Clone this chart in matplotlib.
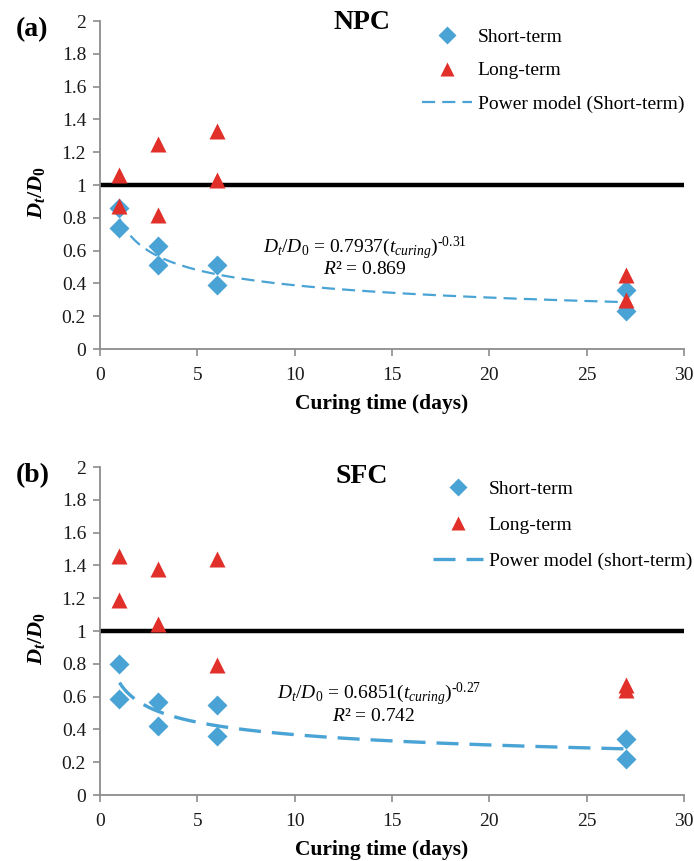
import numpy as np
import matplotlib
matplotlib.use("Agg")
import matplotlib.pyplot as plt
from matplotlib.ticker import FuncFormatter, MultipleLocator

plt.rcParams['font.family'] = ['Liberation Serif', 'DejaVu Serif']
plt.rcParams['mathtext.fontset'] = 'custom'
plt.rcParams['mathtext.rm'] = 'Liberation Serif'
plt.rcParams['mathtext.it'] = 'Liberation Serif:italic'
plt.rcParams['mathtext.bf'] = 'Liberation Serif:bold'
plt.rcParams['mathtext.bfit'] = 'Liberation Serif:bold:italic'

# ---- data ----
days = [1, 1, 3, 3, 6, 6, 27, 27]
npc_short = [0.86, 0.74, 0.63, 0.51, 0.51, 0.39, 0.36, 0.23]
npc_long = [1.06, 0.87, 1.25, 0.82, 1.33, 1.03, 0.45, 0.30]
sfc_short = [0.80, 0.585, 0.57, 0.42, 0.55, 0.36, 0.34, 0.22]
sfc_long = [1.46, 1.19, 1.38, 1.04, 1.44, 0.79, 0.67, 0.64]

npc_coef, npc_exp, npc_r2 = 0.7937, '-0.31', 0.869
sfc_coef, sfc_exp, sfc_r2 = 0.6851, '-0.27', 0.742

panels = [
    dict(tag='(a)', name='NPC', name_y=0.995, short=npc_short, long=npc_long,
         coef=npc_coef, exp=npc_exp, r2=npc_r2,
         model_label='Power model (Short-term)',
         rect=[100/694, 1-349/861, 584/694, 328/861],
         lw=1.6, dashes=(5.9, 3.2),
         eq_xy=(13.6, 0.612), r2_xy=(13.6, 0.482),
         leg_xy=(0.552, 0.978), labelspacing=0.82),
    dict(tag='(b)', name='SFC', name_y=0.97, short=sfc_short, long=sfc_long,
         coef=sfc_coef, exp=sfc_exp, r2=sfc_r2,
         model_label='Power model (short-term)',
         rect=[100/694, 1-795/861, 584/694, 328/861],
         lw=2.4, dashes=(6.6, 3.3),
         eq_xy=(14.35, 0.615), r2_xy=(14.05, 0.477),
         leg_xy=(0.571, 0.96), labelspacing=0.95),
]

blue = '#4AA3D5'
red = '#E1302A'
gray = '#8C8C8C'
fs = 14

fig = plt.figure(figsize=(6.94, 8.61), dpi=100)

for p in panels:
    ax = fig.add_axes(p['rect'])
    ax.set_xlim(0, 30)
    ax.set_ylim(0, 2)
    ax.xaxis.set_major_locator(MultipleLocator(5))
    ax.yaxis.set_major_locator(MultipleLocator(0.2))
    ax.yaxis.set_major_formatter(FuncFormatter(lambda v, pos: '%g' % round(v, 2)))
    for s in ['top', 'right']:
        ax.spines[s].set_visible(False)
    for s in ['left', 'bottom']:
        ax.spines[s].set_color(gray)
        ax.spines[s].set_linewidth(1.3)
    ax.tick_params(direction='out', length=5, width=1.2, color=gray,
                   labelsize=fs, labelcolor='#1a1a1a', pad=5)
    ax.tick_params(axis='x', pad=8)
    ax.axhline(1, color='black', lw=3.2, zorder=2)

    ax.plot(days, p['short'], linestyle='none', marker='D', ms=9.8,
            color=blue, mec='none', label='Short-term', zorder=3)
    ax.plot(days, p['long'], linestyle='none', marker='^', ms=11,
            color=red, mec='none', label='Long-term', zorder=4)
    t = np.linspace(min(days), max(days), 200)
    ax.plot(t, p['coef'] * t ** float(p['exp']), color=blue, lw=p['lw'],
            dashes=p['dashes'], label=p['model_label'], zorder=3)

    ax.legend(loc='upper left', bbox_to_anchor=p['leg_xy'], frameon=False,
              fontsize=fs, borderaxespad=0, borderpad=0,
              handlelength=2.55, handletextpad=0.3,
              labelspacing=p['labelspacing'], markerscale=0.9)

    ax.text(p['eq_xy'][0], p['eq_xy'][1],
            r'$D_t/D_0$ = %.4f($t_{curing}$)$^{\text{%s}}$' % (p['coef'], p['exp']),
            fontsize=fs, ha='center', va='center')
    ax.text(p['r2_xy'][0], p['r2_xy'][1], r'$R$² = %.3f' % p['r2'],
            fontsize=fs, ha='center', va='center')

    ax.set_xlabel('Curing time (days)', fontsize=15.5, fontweight='bold')
    ax.xaxis.set_label_coords(0.482, -0.138)
    ax.set_ylabel(r'$\mathbfit{D}_{\mathbfit{t}}\mathbf{/}\mathbfit{D}_{\mathbf{0}}$',
                  fontsize=16)
    ax.yaxis.set_label_coords(-0.09, 0.476)

    ax.text(-0.145, 0.975, p['tag'], transform=ax.transAxes, fontsize=20,
            fontweight='bold', ha='left', va='center')
    ax.text(0.449, p['name_y'], p['name'], transform=ax.transAxes, fontsize=20,
            fontweight='bold', ha='center', va='center')

fig.savefig('out.png', dpi=100)
